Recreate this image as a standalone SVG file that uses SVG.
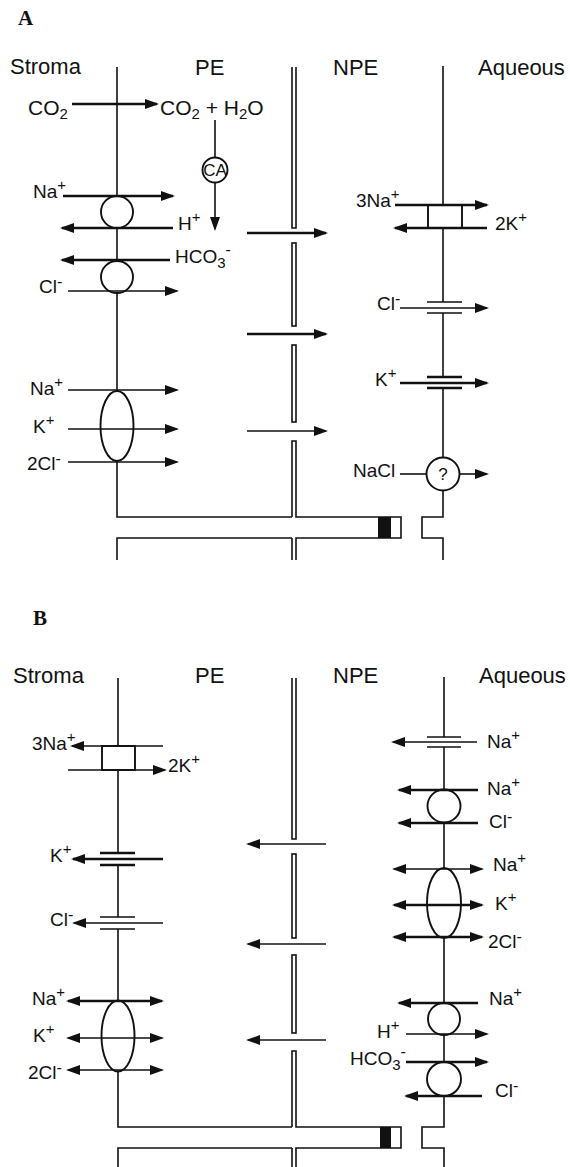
<svg xmlns="http://www.w3.org/2000/svg" width="570" height="1167" viewBox="0 0 570 1167">
<style>
.m{stroke:#111;stroke-width:1.6;fill:none}
.w{fill:#fff;stroke:#111;stroke-width:1.9}
.a{stroke:#111;stroke-width:2.4;fill:none}
.n{stroke:#111;stroke-width:1.6;fill:none}
.bt{stroke:#111;stroke-width:1.4}
.bk{stroke:#111;stroke-width:2.7}
.t{font-family:"Liberation Sans",Arial,sans-serif;font-size:19px;fill:#111}
.h{font-family:"Liberation Sans",Arial,sans-serif;font-size:22px;fill:#111}
.p{font-family:"Liberation Serif","Times New Roman",serif;font-size:21px;font-weight:bold;fill:#111}
</style>
<defs>
<marker id="ah" markerUnits="userSpaceOnUse" markerWidth="15" markerHeight="11" refX="12" refY="5" orient="auto-start-reverse"><path d="M0,0 L14,5 L0,10 z" fill="#111"/></marker>
</defs>
<rect width="570" height="1167" fill="#fff"/>

<g id="labels">
<text class="p" x="18" y="25">A</text>
<text class="h" x="10" y="74">Stroma</text>
<text class="h" x="195" y="75">PE</text>
<text class="h" x="333" y="75">NPE</text>
<text class="h" x="478" y="75">Aqueous</text>
<text class="p" x="33" y="625">B</text>
<text class="h" x="13" y="683">Stroma</text>
<text class="h" x="195" y="683">PE</text>
<text class="h" x="333" y="683">NPE</text>
<text class="h" x="479" y="683">Aqueous</text>
</g>

<g id="membranes-A">
<path class="m" d="M117,67 V517 H292 M117,560 V538 H292"/>
<path class="m" d="M292,67 V228 H296 V67"/>
<rect class="m" x="292" y="243" width="4" height="83"/>
<rect class="m" x="292" y="345" width="4" height="77"/>
<path class="m" d="M292,517 V441 H296 V517 H401 V538 H296 V560 M292,560 V538"/>
<rect x="378" y="517" width="13" height="21" fill="#111"/>
<path class="m" d="M443,66 V302 M443,313 V377 M443,388 V517 H422 V538 H443 V560"/>
</g>

<g id="membranes-B">
<path class="m" d="M118,678 V853 M118,865 V917 M118,929 V1127 H292 M118,1167 V1148 H292"/>
<path class="m" d="M292,678 V839 H296 V678"/>
<rect class="m" x="292" y="854" width="4" height="84"/>
<rect class="m" x="292" y="955" width="4" height="78"/>
<path class="m" d="M292,1127 V1051 H296 V1127 H401 V1148 H296 V1167 M292,1167 V1148"/>
<rect x="380" y="1127" width="11" height="21" fill="#111"/>
<path class="m" d="M444,677 V737 M444,747 V1127 H422 V1148 H444 V1167"/>
</g>

<g id="A-CA"><circle class="w" cx="215" cy="170" r="12.5"/><text class="t" x="215" y="176" text-anchor="middle" style="font-size:17px">CA</text></g>
<g id="A-NaH"><circle class="w" cx="117" cy="212" r="16"/></g>
<g id="A-ClHCO3"><circle class="w" cx="117" cy="277" r="16"/></g>
<g id="A-NKCC"><ellipse class="w" cx="117" cy="426" rx="16.5" ry="35"/></g>
<g id="A-pump"><rect class="w" x="428" y="205" width="34" height="23"/></g>
<g id="A-Clchan"><path class="bt" d="M427,302 H462 M427,313 H462"/></g>
<g id="A-Kchan"><path class="bk" d="M427,377 H462 M427,388 H462"/></g>
<g id="A-NaCl"><circle class="w" cx="443" cy="474" r="16.5"/><text class="t" x="443" y="480" text-anchor="middle" style="font-size:17px">?</text></g>

<g id="B-pump"><rect class="w" x="102" y="746" width="33" height="24"/></g>
<g id="B-Kchan"><path class="bk" d="M100,853 H135 M100,865 H135"/></g>
<g id="B-Clchan"><path class="bt" d="M100,917 H135 M100,929 H135"/></g>
<g id="B-NKCC"><ellipse class="w" cx="118" cy="1036" rx="16.5" ry="35.5"/></g>
<g id="B-Nachan"><path class="bt" d="M427,737 H461 M427,747 H461"/></g>
<g id="B-NaCl"><circle class="w" cx="444" cy="806" r="16.5"/></g>
<g id="B-NKCC2"><ellipse class="w" cx="444" cy="903" rx="17" ry="35"/></g>
<g id="B-NaH"><circle class="w" cx="444" cy="1019" r="16"/></g>
<g id="B-ClHCO3"><circle class="w" cx="444" cy="1079" r="17"/></g>

<g id="connectors">
<line class="a" x1="72" y1="104" x2="157" y2="104" marker-end="url(#ah)"/>
<line class="n" x1="215" y1="120" x2="215" y2="157"/>
<line class="n" x1="215" y1="183" x2="215" y2="229" marker-end="url(#ah)"/>
<line class="a" x1="63" y1="196" x2="173" y2="196" marker-end="url(#ah)"/>
<line class="a" x1="173" y1="228" x2="62" y2="228" marker-end="url(#ah)"/>
<line class="a" x1="170" y1="260" x2="62" y2="260" marker-end="url(#ah)"/>
<line class="n" x1="68" y1="291" x2="177" y2="291" marker-end="url(#ah)"/>
<line class="n" x1="68" y1="390" x2="177" y2="390" marker-end="url(#ah)"/>
<line class="n" x1="68" y1="429" x2="177" y2="429" marker-end="url(#ah)"/>
<line class="n" x1="68" y1="462" x2="177" y2="462" marker-end="url(#ah)"/>
<line class="a" x1="247" y1="233" x2="326" y2="233" marker-end="url(#ah)"/>
<line class="a" x1="247" y1="334" x2="326" y2="334" marker-end="url(#ah)"/>
<line class="n" x1="247" y1="431" x2="326" y2="431" marker-end="url(#ah)"/>
<line class="a" x1="395" y1="205" x2="487" y2="205" marker-end="url(#ah)"/>
<line class="a" x1="487" y1="228" x2="395" y2="228" marker-end="url(#ah)"/>
<line class="n" x1="400" y1="308" x2="487" y2="308" marker-end="url(#ah)"/>
<line class="a" x1="400" y1="383" x2="487" y2="383" marker-end="url(#ah)"/>
<line class="n" x1="400" y1="474" x2="427" y2="474"/>
<line class="n" x1="460" y1="474" x2="487" y2="474" marker-end="url(#ah)"/>

<line class="n" x1="163" y1="746" x2="72" y2="746" marker-end="url(#ah)"/>
<line class="n" x1="68" y1="770" x2="165" y2="770" marker-end="url(#ah)"/>
<line class="a" x1="163" y1="859" x2="73" y2="859" marker-end="url(#ah)"/>
<line class="n" x1="163" y1="923" x2="74" y2="923" marker-end="url(#ah)"/>
<line class="a" x1="68" y1="1001" x2="162" y2="1001" marker-start="url(#ah)" marker-end="url(#ah)"/>
<line class="n" x1="68" y1="1038" x2="162" y2="1038" marker-start="url(#ah)" marker-end="url(#ah)"/>
<line class="n" x1="68" y1="1070" x2="162" y2="1070" marker-start="url(#ah)" marker-end="url(#ah)"/>
<line class="n" x1="326" y1="844" x2="248" y2="844" marker-end="url(#ah)"/>
<line class="n" x1="326" y1="944" x2="248" y2="944" marker-end="url(#ah)"/>
<line class="n" x1="326" y1="1040" x2="248" y2="1040" marker-end="url(#ah)"/>
<line class="n" x1="477" y1="742" x2="393" y2="742" marker-end="url(#ah)"/>
<line class="a" x1="478" y1="790" x2="399" y2="790" marker-end="url(#ah)"/>
<line class="a" x1="478" y1="823" x2="399" y2="823" marker-end="url(#ah)"/>
<line class="n" x1="394" y1="869" x2="482" y2="869" marker-start="url(#ah)" marker-end="url(#ah)"/>
<line class="a" x1="394" y1="905" x2="482" y2="905" marker-start="url(#ah)" marker-end="url(#ah)"/>
<line class="a" x1="394" y1="937" x2="482" y2="937" marker-start="url(#ah)" marker-end="url(#ah)"/>
<line class="a" x1="478" y1="1003" x2="399" y2="1003" marker-end="url(#ah)"/>
<line class="n" x1="406" y1="1034" x2="487" y2="1034" marker-end="url(#ah)"/>
<line class="a" x1="406" y1="1062" x2="487" y2="1062" marker-end="url(#ah)"/>
<line class="a" x1="482" y1="1096" x2="406" y2="1096" marker-end="url(#ah)"/>
</g>

<g id="ion-labels">
<text class="t" x="28" y="115" style="font-size:21px">CO<tspan style="font-size:15px" dy="4">2</tspan></text>
<text class="t" x="160" y="115" style="font-size:21px">CO<tspan style="font-size:15px" dy="4">2</tspan><tspan dy="-4"> + H</tspan><tspan style="font-size:15px" dy="4">2</tspan><tspan dy="-4">O</tspan></text>
<text class="t" x="33" y="198">Na<tspan style="font-size:15px" dy="-8">+</tspan></text>
<text class="t" x="178" y="230">H<tspan style="font-size:15px" dy="-8">+</tspan></text>
<text class="t" x="175" y="263">HCO<tspan style="font-size:15px" dy="5">3</tspan><tspan style="font-size:16px" dy="-13">-</tspan></text>
<text class="t" x="39" y="293">Cl<tspan style="font-size:16px" dy="-6">-</tspan></text>
<text class="t" x="30" y="395">Na<tspan style="font-size:15px" dy="-8">+</tspan></text>
<text class="t" x="33" y="433">K<tspan style="font-size:15px" dy="-8">+</tspan></text>
<text class="t" x="27" y="470">2Cl<tspan style="font-size:16px" dy="-6">-</tspan></text>
<text class="t" x="356" y="207">3Na<tspan style="font-size:15px" dy="-8">+</tspan></text>
<text class="t" x="495" y="230">2K<tspan style="font-size:15px" dy="-8">+</tspan></text>
<text class="t" x="377" y="310">Cl<tspan style="font-size:16px" dy="-6">-</tspan></text>
<text class="t" x="375" y="386">K<tspan style="font-size:15px" dy="-8">+</tspan></text>
<text class="t" x="353" y="477">NaCl</text>

<text class="t" x="32" y="750">3Na<tspan style="font-size:15px" dy="-8">+</tspan></text>
<text class="t" x="168" y="772">2K<tspan style="font-size:15px" dy="-8">+</tspan></text>
<text class="t" x="50" y="862">K<tspan style="font-size:15px" dy="-8">+</tspan></text>
<text class="t" x="50" y="926">Cl<tspan style="font-size:16px" dy="-6">-</tspan></text>
<text class="t" x="32" y="1005">Na<tspan style="font-size:15px" dy="-8">+</tspan></text>
<text class="t" x="33" y="1042">K<tspan style="font-size:15px" dy="-8">+</tspan></text>
<text class="t" x="28" y="1079">2Cl<tspan style="font-size:16px" dy="-6">-</tspan></text>
<text class="t" x="487" y="748">Na<tspan style="font-size:15px" dy="-8">+</tspan></text>
<text class="t" x="487" y="795">Na<tspan style="font-size:15px" dy="-8">+</tspan></text>
<text class="t" x="489" y="828">Cl<tspan style="font-size:16px" dy="-6">-</tspan></text>
<text class="t" x="493" y="871">Na<tspan style="font-size:15px" dy="-8">+</tspan></text>
<text class="t" x="495" y="910">K<tspan style="font-size:15px" dy="-8">+</tspan></text>
<text class="t" x="488" y="948">2Cl<tspan style="font-size:16px" dy="-6">-</tspan></text>
<text class="t" x="489" y="1005">Na<tspan style="font-size:15px" dy="-8">+</tspan></text>
<text class="t" x="377" y="1038">H<tspan style="font-size:15px" dy="-8">+</tspan></text>
<text class="t" x="350" y="1065">HCO<tspan style="font-size:15px" dy="5">3</tspan><tspan style="font-size:16px" dy="-13">-</tspan></text>
<text class="t" x="495" y="1097">Cl<tspan style="font-size:16px" dy="-6">-</tspan></text>
</g>
</svg>
